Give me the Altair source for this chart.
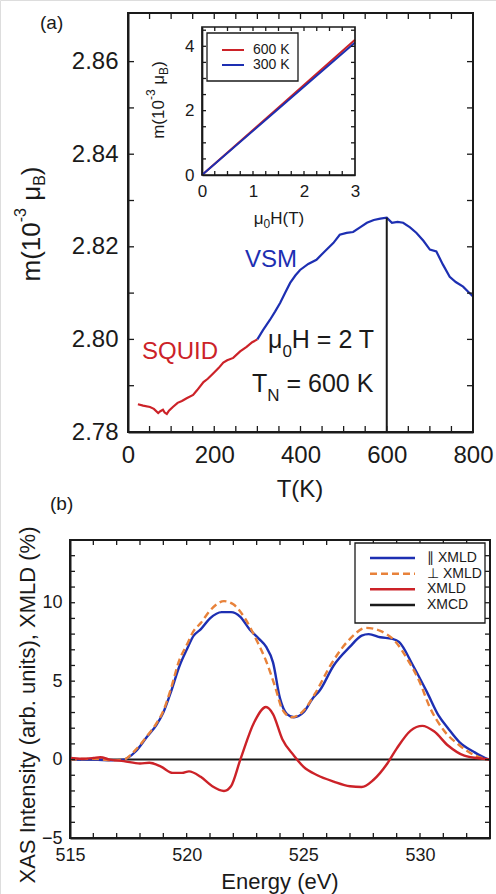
import altair as alt
import pandas as pd

FONT = "Liberation Sans"
W, H = 496, 894
INK = "#1a1a1a"
RED = "#cc2228"
BLUE = "#1d2fb2"
ORANGE = "#e8823a"

# ---------------- data: panel (a) m(T) ----------------
squid_T = [23, 35, 51, 60, 70, 75, 81, 85, 90, 95, 104, 115, 125, 136, 151, 160, 175,
           185, 198, 210, 221, 230, 244, 260, 275, 288, 300]
squid_m = [2.7860, 2.7857, 2.7854, 2.7850, 2.7841, 2.7845, 2.7848, 2.7842, 2.7839, 2.7846,
           2.7854, 2.7863, 2.7867, 2.7873, 2.7880, 2.7890, 2.7908, 2.7915, 2.7927, 2.7938,
           2.7950, 2.7955, 2.7960, 2.7974, 2.7984, 2.7994, 2.8000]
vsm_T = [300, 313, 329, 341, 353, 365, 376, 388, 399, 418, 437, 456, 476, 491, 507, 522,
         538, 554, 570, 585, 600, 612, 625, 638, 654, 669, 685, 700, 715, 730, 746, 760,
         777, 790, 800]
vsm_m = [2.8000, 2.8020, 2.8042, 2.8060, 2.8079, 2.8102, 2.8122, 2.8138, 2.8150, 2.8163,
         2.8172, 2.8190, 2.8208, 2.8226, 2.8230, 2.8232, 2.8242, 2.8252, 2.8258, 2.8261,
         2.8263, 2.8252, 2.8254, 2.8252, 2.8242, 2.8230, 2.8213, 2.8194, 2.8190, 2.8162,
         2.8135, 2.8124, 2.8114, 2.8102, 2.8093]
neel_T = [600, 600]
neel_m = [2.78, 2.8263]

# inset m(H)
inset_H = [0, 1.5, 3]
inset_600K = [0, 2.10, 4.20]
inset_300K = [0, 2.06, 4.12]

# ---------------- data: panel (b) XAS / XMLD ----------------
par_E = [515.0, 516.0, 516.8, 517.3, 517.8, 518.3, 518.7, 519.0, 519.3, 519.7, 520.0, 520.3,
         520.6, 521.0, 521.5, 521.9, 522.3, 522.7, 523.1, 523.4, 523.7, 524.0, 524.3, 524.6,
         525.0, 525.4, 525.7, 526.3, 527.0, 527.5, 527.8, 528.3, 528.8, 529.1, 529.7, 530.3,
         530.8, 531.2, 531.7, 532.3, 532.8, 533.0]
par_I = [0.0, 0.0, -0.05, 0.0, 0.5, 1.45, 2.2, 3.0, 4.2, 6.0, 7.0, 7.9,
         8.3, 9.0, 9.4, 9.4, 9.1, 8.3, 7.7, 7.2, 6.2, 3.9, 2.9, 2.7,
         3.0, 3.9, 4.4, 6.0, 7.2, 7.9, 8.0, 7.8, 7.7, 7.5, 6.0, 4.3,
         2.8, 2.0, 1.1, 0.5, 0.1, 0.0]
perp_E = [515.0, 516.0, 516.8, 517.3, 517.8, 518.3, 518.7, 519.0, 519.3, 519.7, 520.0, 520.3,
          520.6, 521.0, 521.6, 522.0, 522.5, 523.0, 523.4, 523.8, 524.1, 524.5, 525.0, 525.5,
          526.2, 527.0, 527.7, 528.3, 528.9, 529.5, 530.0, 530.4, 531.0, 531.7, 532.3, 532.9]
perp_I = [0.0, 0.05, -0.05, 0.0, 0.6, 1.5, 2.3, 3.1, 4.4, 6.4, 7.3, 8.2,
          8.7, 9.5, 10.1, 9.9, 9.0, 7.6, 6.3, 4.6, 3.2, 2.7, 3.1, 4.2,
          6.1, 7.7, 8.4, 8.2, 7.6, 6.3, 4.9, 3.4, 1.9, 0.9, 0.3, 0.0]
xmld_E = [515.0, 515.5, 516.0, 516.3, 516.7, 517.3, 518.0, 518.4, 518.9, 519.4, 519.8, 520.1,
          520.6, 521.1, 521.6, 521.9, 522.3, 522.9, 523.4, 523.7, 524.1, 524.6, 525.0, 525.6,
          526.3, 527.0, 527.5, 528.0, 528.6, 529.0, 529.6, 530.1, 530.6, 531.2, 531.9, 532.7,
          533.0]
xmld_I = [0.1, 0.05, 0.1, 0.15, 0.0, -0.1, -0.25, -0.2, -0.45, -0.85, -0.85, -0.75,
          -1.1, -1.7, -2.0, -1.7, 0.0, 2.4, 3.35, 2.9, 1.3, 0.25, -0.45, -1.0,
          -1.4, -1.7, -1.75, -1.3, -0.25, 0.7, 1.85, 2.15, 1.8, 0.9, 0.25, 0.05,
          0.0]
xmcd_E = [515.0, 533.0]
xmcd_I = [0.0, 0.0]

# ---------------- axes: domains, labels, ticks ----------------
a_xdom, a_ydom = [0, 800], [2.78, 2.8705]
a_xlab, a_ylab = [0, 200, 400, 600, 800], [2.78, 2.80, 2.82, 2.84, 2.86]
a_xtick = list(range(50, 800, 50))
a_ytick = [round(2.79 + 0.01 * i, 2) for i in range(8)]

i_xdom, i_ydom = [0, 3], [0, 4.6]
i_xlab, i_ylab = [0, 1, 2, 3], [0, 2, 4]
i_xtick = [0.25 * i for i in range(1, 12)]
i_ytick = [0.5 * i for i in range(1, 10)]

b_xdom, b_ydom = [515, 533], [-5, 14]
b_xlab, b_ylab = [515, 520, 525, 530], [-5, 0, 5, 10]
b_xtick = list(range(516, 533))
b_ytick = list(range(-4, 14))

inset_leg_labels = ["600 K", "300 K"]
inset_leg_colors = [RED, BLUE]
b_leg_labels = ["∥ XMLD", "⊥ XMLD", "XMLD", "XMCD"]
b_leg_colors = [BLUE, ORANGE, RED, INK]
b_leg_dash = [None, [7, 4], None, None]

# ---------------- layout (pixels) ----------------
PA = dict(x0=128, x1=473, y0=13, y1=432)
PI = dict(x0=202, x1=355, y0=27, y1=175)
PB = dict(x0=70, x1=490, y0=540, y1=838)


def scales(xd, yd, P):
    sx = alt.Scale(domain=xd, range=[P["x0"], P["x1"]], nice=False, zero=False)
    sy = alt.Scale(domain=yd, range=[P["y1"], P["y0"]], nice=False, zero=False)
    return sx, sy


def label_axes(P, xv, yv, fs, xpad, ypad, xfmt, yfmt, dw, ts):
    common = dict(ticks=True, tickSize=ts, tickColor="transparent", tickWidth=1,
                  domain=True, domainColor=INK, domainWidth=dw, grid=False,
                  labelFont=FONT, labelFontSize=fs, labelColor=INK, title=None,
                  labelFlush=False)
    ax = alt.Axis(orient="bottom", offset=P["y1"] - H, values=xv, format=xfmt,
                  labelPadding=xpad, **common)
    ay = alt.Axis(orient="left", offset=-P["x0"], values=yv, format=yfmt,
                  labelPadding=ypad, **common)
    return ax, ay


def frame(P, sw, key):
    return alt.Chart(pd.DataFrame({"k": [key]})).mark_rect(
        filled=False, stroke=INK, strokeWidth=sw).encode(
        x=alt.value(P["x0"]), x2=alt.value(P["x1"]), y=alt.value(P["y0"]), y2=alt.value(P["y1"]))


def tick_rules(P, sx, sy, xt, yt, s):
    dx = pd.DataFrame({"t": xt})
    dy = pd.DataFrame({"t": yt})
    xs = alt.X("t:Q", scale=sx, axis=None)
    ys = alt.Y("t:Q", scale=sy, axis=None)
    return [
        alt.Chart(dx).mark_rule(color=INK, strokeWidth=1.3).encode(
            x=xs, y=alt.value(P["y1"] - s), y2=alt.value(P["y1"])),
        alt.Chart(dx).mark_rule(color=INK, strokeWidth=1.3).encode(
            x=xs, y=alt.value(P["y0"]), y2=alt.value(P["y0"] + s)),
        alt.Chart(dy).mark_rule(color=INK, strokeWidth=1.3).encode(
            y=ys, x=alt.value(P["x0"]), x2=alt.value(P["x0"] + s)),
        alt.Chart(dy).mark_rule(color=INK, strokeWidth=1.3).encode(
            y=ys, x=alt.value(P["x1"] - s), x2=alt.value(P["x1"])),
    ]


def line(x, y, sx, sy, color, width, axes=(None, None), dash=None, interp="linear"):
    df = pd.DataFrame({"x": x, "y": y})
    kw = dict(color=color, strokeWidth=width, interpolate=interp)
    if dash:
        kw["strokeDash"] = dash
    return alt.Chart(df).mark_line(**kw).encode(
        x=alt.X("x:Q", scale=sx, axis=axes[0]),
        y=alt.Y("y:Q", scale=sy, axis=axes[1]),
    )


def legend_rows(labels, colors, dashes, x0, x1, xt, ys, width):
    out = []
    for lab, col, dsh, yy in zip(labels, colors, dashes, ys):
        kw = dict(color=col, strokeWidth=width)
        if dsh:
            kw["strokeDash"] = dsh
        out.append(alt.Chart(pd.DataFrame({"entry": [lab]})).mark_rule(**kw).encode(
            x=alt.value(x0), x2=alt.value(x1), y=alt.value(yy)))
        out.append(alt.Chart(pd.DataFrame({"t": [lab]})).mark_text(
            align="left", baseline="middle", font=FONT, fontSize=14, color=INK).encode(
            x=alt.value(xt), y=alt.value(yy), text="t:N"))
    return out


# --- text helper (rich text with sub/superscripts) ---
ARIAL = {"m": 833, "(": 333, ")": 333, "1": 556, "0": 556, "-": 333, "3": 556, " ": 278,
         "μ": 576, "B": 667, "H": 722, "T": 611, "K": 667, "N": 722, "=": 584, "2": 556,
         "6": 556, "E": 667, "n": 556, "e": 556, "r": 333, "g": 556, "y": 500, "V": 667,
         "X": 667, "A": 667, "S": 667, "I": 278, "t": 278, "s": 500, "i": 222, "a": 556,
         "b": 556, ".": 278, "u": 556, ",": 278, "M": 833, "L": 556, "D": 722, "%": 889}


def tw(s, fs):
    return sum(ARIAL.get(c, 556) for c in s) / 1000.0 * fs


def rich(pieces, x, y, angle=0, color=INK, anchor="left"):
    total = sum(tw(t, fs) for t, fs, _ in pieces)
    rows = []
    pos = (x - total / 2 if anchor == "center" else x) if angle == 0 else \
          (y + total / 2 if anchor == "center" else y)
    for t, fs, sh in pieces:
        lead = len(t) - len(t.lstrip())
        adv0 = tw(" " * lead, fs)
        if angle == 0:
            rows.append(dict(t=t.strip(), px=pos + adv0, py=y + sh, fs=fs, c=color, ang=0))
            pos += tw(t, fs)
        else:
            rows.append(dict(t=t.strip(), px=x + sh, py=pos - adv0, fs=fs, c=color, ang=270))
            pos -= tw(t, fs)
    return rows


texts = []
texts += rich([("(a)", 19, 0)], 40, 29)
texts += rich([("(b)", 19, 0)], 50, 510)
texts += rich([("m(10", 26, 0), ("-3", 16, -14), (" μ", 26, 0), ("B", 16, 5), (")", 26, 0)],
              40, 224, angle=270, anchor="center")
texts += rich([("T(K)", 24, 0)], 300, 497, anchor="center")
texts += rich([("SQUID", 24, 0)], 142, 359, color=RED)
texts += rich([("VSM", 24, 0)], 245, 267, color=BLUE)
texts += rich([("μ", 25, 0), ("0", 17, 9), ("H = 2 T", 25, 0)], 268, 348)
texts += rich([("T", 25, 0), ("N", 17, 9), (" = 600 K", 25, 0)], 252, 392)
texts += rich([("m(10", 17, 0), ("-3", 12, -9), (" μ", 17, 0), ("B", 12, 4), (")", 17, 0)],
              164, 100, angle=270, anchor="center")
texts += rich([("μ", 17, 0), ("0", 12, 4), ("H(T)", 17, 0)], 279, 224, anchor="center")
texts += rich([("Energy (eV)", 22, 0)], 280, 889, anchor="center")
texts += rich([("XAS Intensity (arb. units), XMLD (%)", 22, 0)], 35, 705, angle=270,
              anchor="center")

text_layers = [
    alt.Chart(pd.DataFrame({"t": [r["t"]], "n": [i]})).mark_text(
        align="left", baseline="alphabetic", font=FONT, fontSize=r["fs"],
        angle=r["ang"], color=r["c"]).encode(
        x=alt.value(r["px"]), y=alt.value(r["py"]), text="t:N")
    for i, r in enumerate(texts)
]

# ---------------- panel (a) ----------------
asx, asy = scales(a_xdom, a_ydom, PA)
a_layers = [
    line(squid_T, squid_m, asx, asy, RED, 2.2,
         label_axes(PA, a_xlab, a_ylab, 24, 6, 5, "d", ".2f", 2.0, 5)),
    line(vsm_T, vsm_m, asx, asy, BLUE, 2.2),
    line(neel_T, neel_m, asx, asy, INK, 2.0),
    frame(PA, 2.0, "frame a"),
] + tick_rules(PA, asx, asy, a_xtick, a_ytick, 6)

# ---------------- inset ----------------
isx, isy = scales(i_xdom, i_ydom, PI)
i_layers = [
    line(inset_H, inset_600K, isx, isy, RED, 2.0,
         label_axes(PI, i_xlab, i_ylab, 17, 4, 4, "d", "d", 1.7, 4)),
    line(inset_H, inset_300K, isx, isy, BLUE, 2.0),
    frame(PI, 1.7, "frame inset"),
] + tick_rules(PI, isx, isy, i_xtick, i_ytick, 4) + [
    alt.Chart(pd.DataFrame({"k": ["inset legend"]})).mark_rect(
        fill="white", stroke=INK, strokeWidth=1.3).encode(
        x=alt.value(207), x2=alt.value(298), y=alt.value(33), y2=alt.value(81)),
] + legend_rows(inset_leg_labels, inset_leg_colors, [None, None], 222, 244, 253,
                [50, 65], 2.0)

# ---------------- panel (b) ----------------
bsx, bsy = scales(b_xdom, b_ydom, PB)
b_layers = [
    line(xmcd_E, xmcd_I, bsx, bsy, INK, 2.0,
         label_axes(PB, b_xlab, b_ylab, 18, 3, 3, "d", "d", 2.0, 5)),
    line(par_E, par_I, bsx, bsy, BLUE, 2.4, interp="monotone"),
    line(perp_E, perp_I, bsx, bsy, ORANGE, 2.4, dash=[7, 4], interp="monotone"),
    line(xmld_E, xmld_I, bsx, bsy, RED, 2.4, interp="monotone"),
    frame(PB, 2.0, "frame b"),
] + tick_rules(PB, bsx, bsy, b_xtick, b_ytick, 5) + [
    alt.Chart(pd.DataFrame({"k": ["xas legend"]})).mark_rect(
        fill="white", stroke=INK, strokeWidth=1.3).encode(
        x=alt.value(355), x2=alt.value(485), y=alt.value(543), y2=alt.value(623)),
] + legend_rows(b_leg_labels, b_leg_colors, b_leg_dash, 370, 415, 427,
                [558, 573.7, 589.3, 605], 2.4)

chart = alt.layer(*(a_layers + i_layers + b_layers + text_layers)).resolve_scale(
    x="independent", y="independent"
).resolve_axis(
    x="independent", y="independent"
).properties(
    width=W, height=H, autosize=alt.AutoSizeParams(type="none"), padding=0
).configure_view(
    stroke="transparent"
).configure(
    background="white"
)

chart.save("out.html", embed_options={"renderer": "svg", "actions": False})
